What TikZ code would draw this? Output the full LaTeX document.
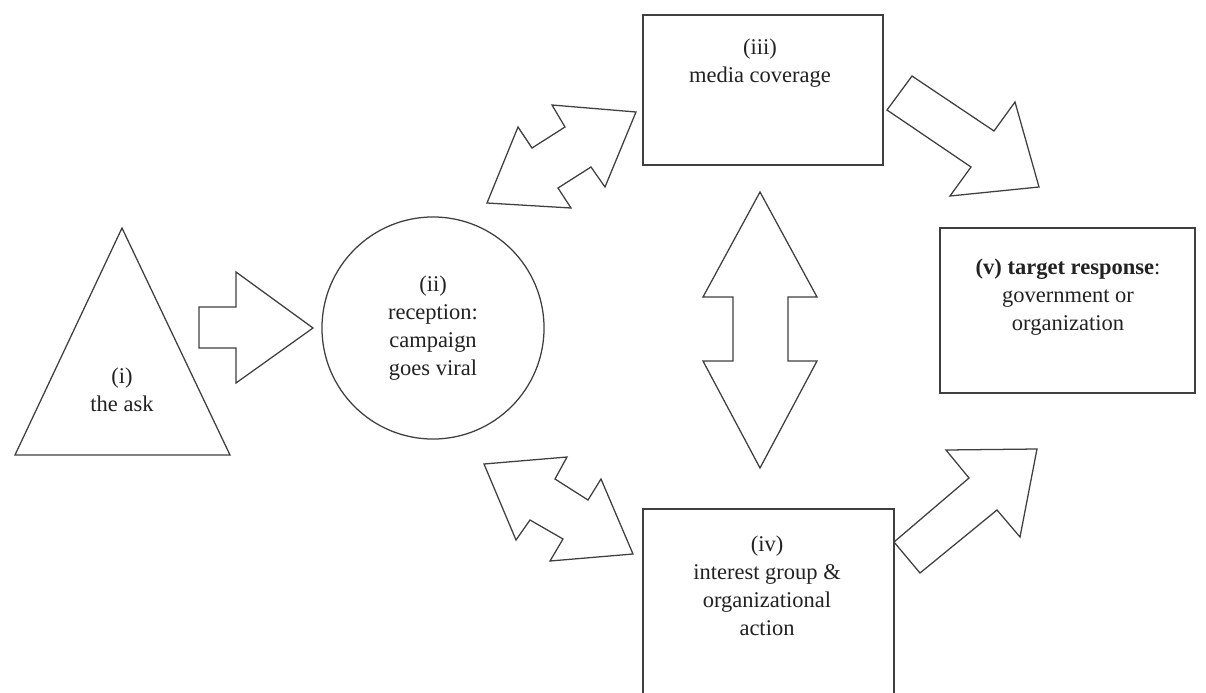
\documentclass[tikz,border=0pt]{standalone}
\usepackage{fontspec}
\setmainfont{Liberation Serif}
\usetikzlibrary{positioning}
\definecolor{outlinegray}{HTML}{3F3F3F}
\definecolor{labeltext}{HTML}{222222}
\tikzset{
  outline/.style={draw=outlinegray, line width=0.9pt, line join=miter},
  boxline/.style={draw=outlinegray, line width=1.1pt},
  stagetext/.style={font=\fontsize{16}{20}\selectfont, align=center, text=labeltext, inner sep=0pt},
}

\begin{document}
\begin{tikzpicture}[x=0.025cm, y=-0.025cm]
    \useasboundingbox (0,0) rectangle (1206,692);
    \fill[white] (0,0) rectangle (1206,692);

    % (i) the ask
    \coordinate (apex) at (122,228);
    \coordinate (baseL) at (15,455);
    \coordinate (baseR) at (230,455);
    \draw[outline] (apex) -- (baseL) -- (baseR) -- cycle;
    \node[stagetext] (ask) at (122,390) {(i)\\the ask};

    % (ii) reception
    \node[circle, outline, minimum size=5.55cm, stagetext] (reception) at (433,328)
        {(ii)\\reception:\\campaign\\goes viral};

    % (iii) media coverage
    \draw[boxline] (643,15) rectangle (883,165);
    \node[stagetext] (media) at (760,63) {(iii)\\media coverage};

    % (iv) interest groups
    \draw[boxline] (643,509) rectangle (894,720);
    \node[stagetext] (action) at (767,586) {(iv)\\interest group \&\\organizational\\action};

    % (v) target response
    \draw[boxline] (940,228) rectangle (1195,393);
    \node[stagetext] (target) at (1068,297)
        {\textbf{(v) target response}:\\government or\\organization};

    % Block arrow (i) -> (ii)
    \draw[outline] (199,307) -- (236,307) -- (236,272) -- (313,328)
        -- (236,383) -- (236,348) -- (199,348) -- cycle;

    % Double arrow (ii) <-> (iii)
    \draw[outline] (552,105) -- (636,112) -- (605,187) -- (591,167) -- (558,188)
        -- (571,208) -- (487,203) -- (518,127) -- (532,148) -- (565,127) -- cycle;

    % Double arrow (ii) <-> (iv)
    \draw[outline] (484,464) -- (567,457) -- (555,479) -- (588,500) -- (601,479)
        -- (633,554) -- (550,561) -- (563,539) -- (530,520) -- (516,540) -- cycle;

    % Double arrow (iii) <-> (iv)
    \draw[outline] (760,192) -- (817,297) -- (788,297) -- (788,361) -- (817,361)
        -- (760,468) -- (703,361) -- (733,361) -- (733,297) -- (703,297) -- cycle;

    % Block arrow (iii) -> (v)
    \draw[outline] (912,76) -- (994,131) -- (1015,102) -- (1039,187)
        -- (950,196) -- (971,167) -- (887,110) -- cycle;

    % Block arrow (iv) -> (v)
    \draw[outline] (894,542) -- (969,478) -- (946,450) -- (1037,449)
        -- (1020,537) -- (997,510) -- (920,573) -- cycle;
\end{tikzpicture}
\end{document}
